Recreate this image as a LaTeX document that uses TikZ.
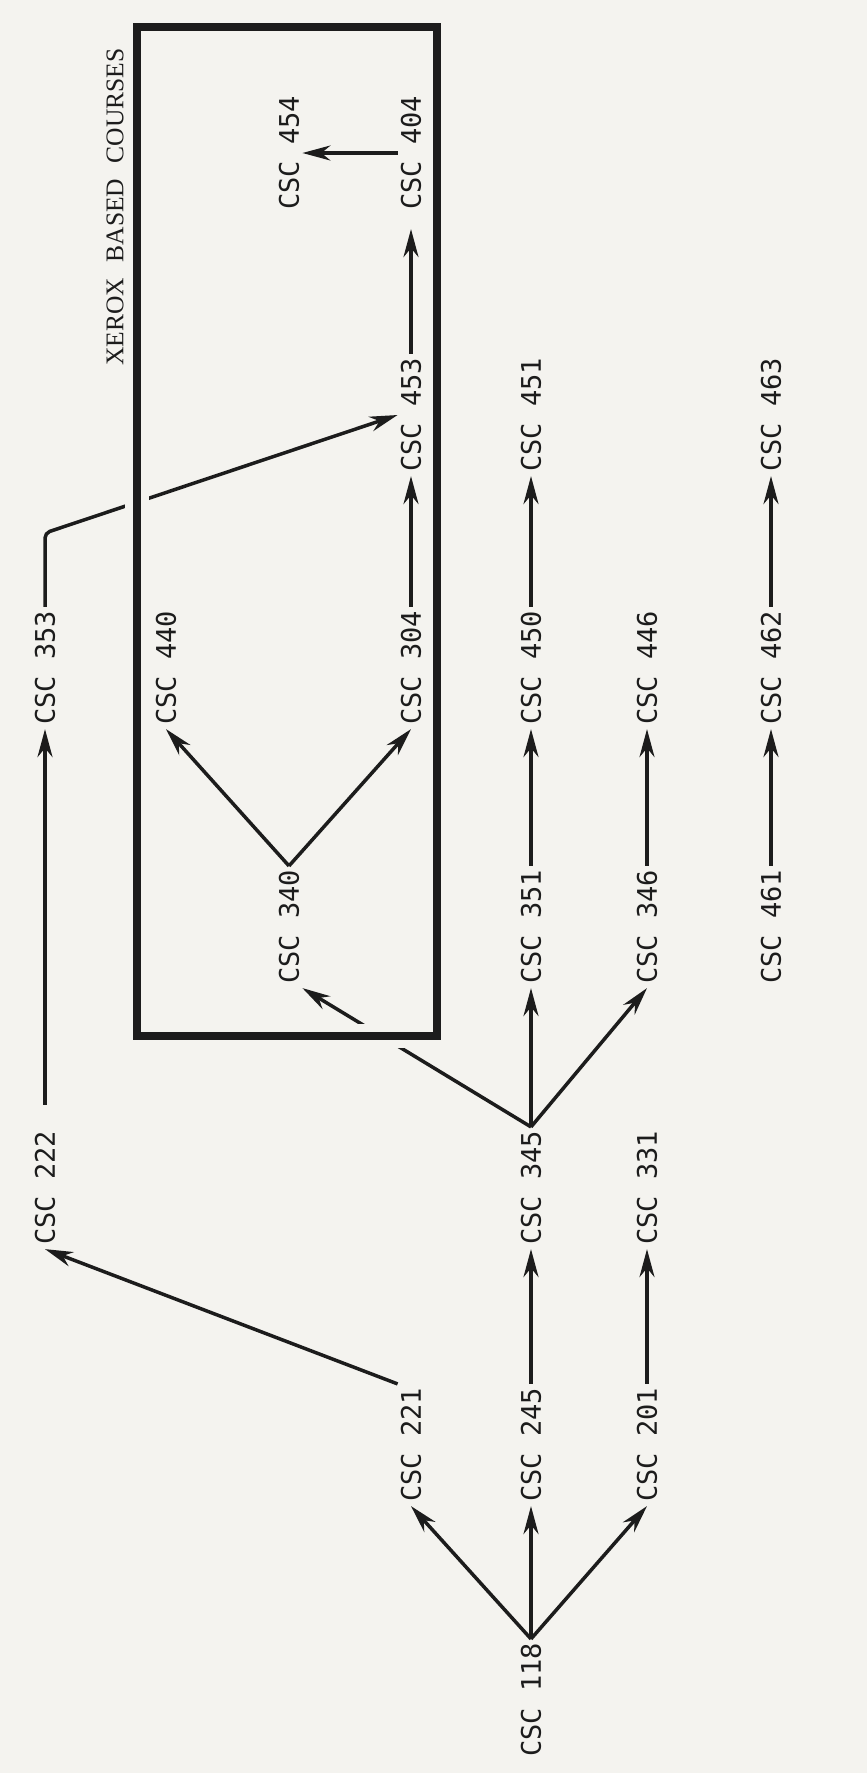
\documentclass[tikz,border=0pt]{standalone}
\usepackage{fontspec}
\newfontfamily\csfont{DejaVu Sans Mono}
\newfontfamily\xfont{Liberation Serif}
\usetikzlibrary{arrows.meta}
\definecolor{paper}{RGB}{244,243,239}
\definecolor{ink}{RGB}{28,28,28}
\begin{document}
\begin{tikzpicture}[x=1pt,y=-1pt,
  cs/.style={rotate=90, font=\csfont\fontsize{27pt}{27pt}\selectfont, text=ink, inner xsep=4pt, inner ysep=3pt},
  conn/.style={draw=ink, line width=3.5pt, -{Stealth[length=28pt,width=15pt,inset=9pt]}},
  frame/.style={draw=ink, line width=8pt, inner sep=0pt, preaction={draw=paper, line width=24pt}},
  xlabel/.style={rotate=90, font=\xfont\fontsize{25.5pt}{25.5pt}\selectfont, text=ink, inner sep=2pt}
]
\fill[paper] (0,0) rectangle (867,1773);
\useasboundingbox (0,0) rectangle (867,1773);

% course nodes
\node[cs] (n118) at (531,1700) {CSC 118};
\node[cs] (n221) at (411,1445) {CSC 221};
\node[cs] (n245) at (531,1445) {CSC 245};
\node[cs] (n201) at (647,1445) {CSC 201};
\node[cs] (n222) at (45,1188) {CSC 222};
\node[cs] (n345) at (531,1188) {CSC 345};
\node[cs] (n331) at (647,1188) {CSC 331};
\node[cs] (n340) at (289,927) {CSC 340};
\node[cs] (n351) at (531,927) {CSC 351};
\node[cs] (n346) at (647,927) {CSC 346};
\node[cs] (n461) at (771,927) {CSC 461};
\node[cs] (n353) at (45,668) {CSC 353};
\node[cs] (n440) at (166,668) {CSC 440};
\node[cs] (n304) at (411,668) {CSC 304};
\node[cs] (n450) at (531,668) {CSC 450};
\node[cs] (n446) at (647,668) {CSC 446};
\node[cs] (n462) at (771,668) {CSC 462};
\node[cs] (n453) at (411,415) {CSC 453};
\node[cs] (n451) at (531,415) {CSC 451};
\node[cs] (n463) at (771,415) {CSC 463};
\node[cs] (n454) at (289,153) {CSC 454};
\node[cs] (n404) at (411,153) {CSC 404};
\coordinate (bend) at (45,533);

% connectors
\draw[conn] (n118.east) -- (n221.west);
\draw[conn] (n118.east) -- (n245.west);
\draw[conn] (n118.east) -- (n201.west);
\draw[conn] (n221.north east) -- (n222.west);
\draw[conn] (n245.east) -- (n345.west);
\draw[conn] (n201.east) -- (n331.west);
\draw[conn, shorten <=22pt] (n222.east) -- (n353.west);
\draw[conn] (n345.east) -- (n340.south west);
\draw[conn] (n345.east) -- (n351.west);
\draw[conn] (n345.east) -- (n346.west);
\draw[conn] (n340.east) -- (n440.west);
\draw[conn] (n340.east) -- (n304.west);
\draw[conn] (n351.east) -- (n450.west);
\draw[conn] (n346.east) -- (n446.west);
\draw[conn] (n461.east) -- (n462.west);
\draw[conn, rounded corners=5pt] (n353.east) -- (bend) -- (n453.north);
\draw[conn] (n304.east) -- (n453.west);
\draw[conn] (n450.east) -- (n451.west);
\draw[conn] (n462.east) -- (n463.west);
\draw[conn, shorten >=15pt] (n453.east) -- (n404.west);
\draw[conn] (n404.north) -- (n454.south);

% frame of the Xerox based courses
\node[frame, minimum width=300pt, minimum height=1009pt] (xbox) at (287,531.5) {};
\node[xlabel] (xtitle) at (115,207) {XEROX\hspace{0.6em}BASED\hspace{0.6em}COURSES};
\end{tikzpicture}
\end{document}
